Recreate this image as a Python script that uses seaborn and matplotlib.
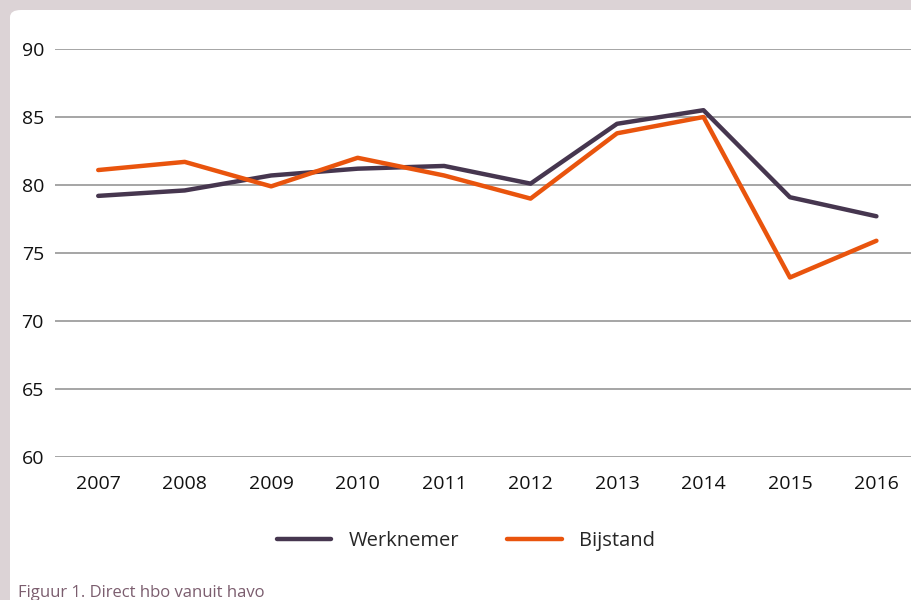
import matplotlib
matplotlib.use("Agg")
import matplotlib.pyplot as plt
from matplotlib.patches import FancyBboxPatch
import seaborn as sns
import pandas as pd

years = ["2007", "2008", "2009", "2010", "2011", "2012", "2013", "2014", "2015", "2016"]
werknemer = [79.2, 79.6, 80.7, 81.2, 81.4, 80.1, 84.5, 85.5, 79.1, 77.7]
bijstand = [81.1, 81.7, 79.9, 82.0, 80.7, 79.0, 83.8, 85.0, 73.2, 75.9]
series_names = ["Werknemer", "Bijstand"]
colors = ["#46364f", "#e9540d"]

df = pd.DataFrame({"jaar": years * 2,
                   "waarde": werknemer + bijstand,
                   "groep": [series_names[0]] * len(years) + [series_names[1]] * len(years)})

sns.set_style("white")
plt.rcParams["font.family"] = ["Open Sans", "DejaVu Sans"]

fig = plt.figure(figsize=(9.11, 6.0), dpi=100)
fig.patch.set_facecolor("#dcd3d6")

# white panel with rounded top-left corner
panel = FancyBboxPatch((10 / 911, 0 - 0.05), 1.05, 1 - 10 / 600 + 0.05,
                       boxstyle="round,pad=0,rounding_size=0.012",
                       transform=fig.transFigure, facecolor="white",
                       edgecolor="none", zorder=-10)
fig.patches.append(panel)

ax = fig.add_axes([55 / 911, 1 - 457 / 600, 1 - 55 / 911, (457 - 49) / 600])
ax.set_zorder(5)
ax.set_facecolor("none")
sns.lineplot(data=df, x="jaar", y="waarde", hue="groep", palette=colors,
             linewidth=3.2, ax=ax, sort=False)

ax.set_ylim(60, 90)
ax.set_yticks(range(60, 91, 5))
ax.set_xlim(-0.5, 9.4)
ax.yaxis.grid(True, color="#9e9e9e", linewidth=1.3)
ax.set_axisbelow(True)
for s in ax.spines.values():
    s.set_visible(False)
ax.tick_params(axis="both", length=0, labelsize=14, colors="#111111")
ax.tick_params(axis="y", pad=8)
ax.tick_params(axis="x", pad=13)
ax.set_xlabel("")
ax.set_ylabel("")

handles, labels = ax.get_legend_handles_labels()
ax.legend(handles, labels, loc="center", bbox_to_anchor=(466 / 911, 1 - 541 / 600),
          bbox_transform=fig.transFigure, ncol=2, frameon=False, fontsize=14.5,
          handlelength=2.7, columnspacing=2.4, handletextpad=0.85)

fig.text(18 / 911, 1 - 597 / 600, "Figuur 1. Direct hbo vanuit havo",
         fontsize=12, color="#7b5d6e", ha="left", va="baseline")

fig.savefig("out.png", dpi=100, facecolor=fig.get_facecolor())
